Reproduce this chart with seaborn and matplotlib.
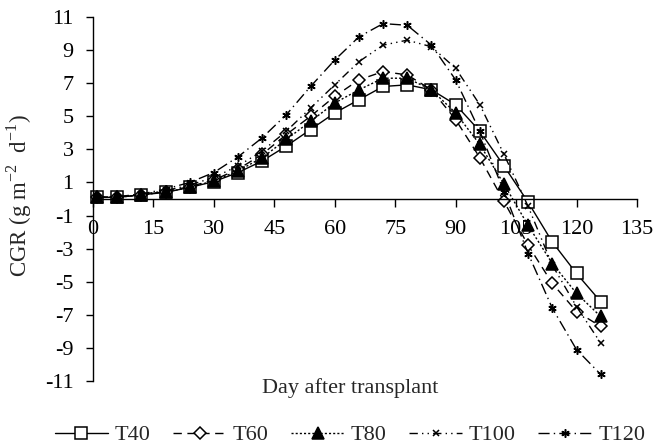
import numpy as np
import pandas as pd
import matplotlib
matplotlib.use("Agg")
import matplotlib.pyplot as plt
import seaborn as sns

# days after transplant and CGR values
days = [1, 6, 12, 18, 24, 30, 36, 42, 48, 54, 60, 66, 72, 78, 84, 90, 96, 102, 108, 114, 120, 126]
T40 = [0.1, 0.1, 0.25, 0.4, 0.7, 1.05, 1.6, 2.3, 3.2, 4.2, 5.2, 6.0, 6.8, 6.9, 6.6, 5.7, 4.1, 2.0, -0.2, -2.6, -4.5, -6.2]
T60 = [0.1, 0.1, 0.25, 0.45, 0.75, 1.15, 1.8, 2.7, 3.9, 5.0, 6.2, 7.2, 7.7, 7.5, 6.6, 4.8, 2.5, -0.15, -2.8, -5.1, -6.8, -7.7]
T80 = [0.1, 0.1, 0.25, 0.42, 0.7, 1.1, 1.7, 2.5, 3.6, 4.7, 5.8, 6.6, 7.3, 7.3, 6.6, 5.2, 3.3, 0.9, -1.6, -3.9, -5.7, -7.1]
T100 = [0.1, 0.12, 0.28, 0.5, 0.85, 1.3, 2.0, 2.9, 4.1, 5.5, 6.9, 8.3, 9.3, 9.6, 9.2, 7.9, 5.7, 2.7, -0.45, -4.0, -6.5, -8.7]
T120 = [0.1, 0.14, 0.3, 0.6, 1.0, 1.6, 2.55, 3.7, 5.1, 6.8, 8.4, 9.8, 10.6, 10.5, 9.3, 7.2, 4.1, 0.45, -3.3, -6.6, -9.1, -10.6]

names = ["T40", "T60", "T80", "T100", "T120"]
series = [T40, T60, T80, T100, T120]

sns.set_style("ticks")
plt.rcParams['font.family'] = ['Liberation Serif', 'DejaVu Serif']
plt.rcParams['axes.unicode_minus'] = False
plt.rcParams['mathtext.fontset'] = 'custom'
plt.rcParams['mathtext.rm'] = 'Liberation Serif'

styles = {
    "T40": dict(linestyle='-', marker='s', markersize=8, markerfacecolor='white'),
    "T60": dict(linestyle=(0, (6, 4)), marker='D', markersize=6, markerfacecolor='white'),
    "T80": dict(linestyle=(0, (1.5, 1.5)), marker='^', markersize=8, markerfacecolor='black'),
    "T100": dict(linestyle=(0, (6, 3, 1, 3, 1, 3)), marker='x', markersize=5),
    "T120": dict(linestyle=(0, (8, 3, 1, 3)), marker=(6, 2, 0), markersize=6),
}

fig = plt.figure(figsize=(6.58, 4.46), dpi=100)
ax = fig.add_axes([0.1413, 0.1457, 0.8267, 0.8162])

for name, vals in zip(names, series):
    df = pd.DataFrame({"day": days, "cgr": vals})
    sns.lineplot(data=df, x="day", y="cgr", ax=ax, color='black', lw=1.0,
                 markeredgecolor='black', markeredgewidth=1.1, clip_on=False,
                 label=name, **styles[name])

ax.set_xlim(0, 135)
ax.set_ylim(-11, 11)
ax.set_xticks(np.arange(0, 136, 15))
ax.set_yticks(np.arange(-11, 12, 2))
ax.set_yticklabels([str(v) for v in np.arange(-11, 12, 2)])
ax.spines['bottom'].set_position(('data', 0))
ax.spines['top'].set_visible(False)
ax.spines['right'].set_visible(False)
for s in ['left', 'bottom']:
    ax.spines[s].set_color('black')
    ax.spines[s].set_linewidth(1.0)
ax.tick_params(axis='x', direction='out', length=6, width=1, pad=9, labelsize=16, colors='black')
ax.tick_params(axis='y', direction='out', length=5, width=1, pad=9, labelsize=16, colors='black')
ax.set_xlabel("")
ax.set_ylabel("")
ax.legend_.remove()

fig.text(19 / 658, 1 - 196 / 446, r"CGR (g m$^{\mathregular{-2}}$  d$^{\mathregular{-1}}$)", rotation=90,
         ha='center', va='center', fontsize=16.5)
fig.text(350 / 658, 1 - 388 / 446, "Day after transplant", ha='center', va='center', fontsize=16)

handles = ax.get_lines()[:5]
fig.legend(handles, names, loc='center', bbox_to_anchor=(350 / 658, 1 - 435 / 446),
           ncol=5, frameon=False, fontsize=16, handlelength=2.4, columnspacing=1.0,
           handletextpad=0.3)

fig.savefig("out.png", dpi=100)
